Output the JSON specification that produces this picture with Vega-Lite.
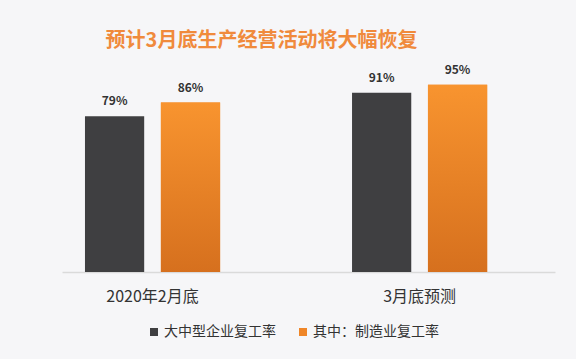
{
  "$schema": "https://vega.github.io/schema/vega-lite/v6.json",
  "width": 493,
  "height": 197,
  "autosize": {"type": "none"},
  "padding": {"left": 62, "top": 75, "right": 21, "bottom": 87},
  "background": "#f6f6f8",
  "config": {
    "view": {"stroke": null},
    "font": "Noto Sans CJK SC"
  },
  "title": {
    "text": "预计3月底生产经营活动将大幅恢复",
    "color": "#f08a3c",
    "fontSize": 20,
    "fontWeight": "bold",
    "anchor": "middle",
    "dx": -47,
    "offset": 13
  },
  "data": {
    "values": [
      {"period": "2020年2月底", "series": "大中型企业复工率", "value": 0.79},
      {"period": "2020年2月底", "series": "其中：制造业复工率", "value": 0.86},
      {"period": "3月底预测", "series": "大中型企业复工率", "value": 0.91},
      {"period": "3月底预测", "series": "其中：制造业复工率", "value": 0.95}
    ]
  },
  "encoding": {
    "x": {
      "field": "period",
      "type": "nominal",
      "sort": null,
      "scale": {"paddingInner": 0.494, "paddingOuter": 0.17, "align": 0.253},
      "axis": {
        "title": null,
        "labelAngle": 0,
        "labelFontSize": 16,
        "labelFontWeight": "normal",
        "labelColor": "#333333",
        "labelPadding": 16,
        "ticks": false,
        "domainColor": "#dadada",
        "domainWidth": 1.5
      }
    },
    "xOffset": {
      "field": "series",
      "type": "nominal",
      "sort": ["大中型企业复工率", "其中：制造业复工率"],
      "scale": {"paddingInner": 0.22, "paddingOuter": 0}
    },
    "y": {
      "field": "value",
      "type": "quantitative",
      "scale": {"domain": [0, 1]},
      "axis": null
    }
  },
  "layer": [
    {
      "mark": {"type": "bar"},
      "encoding": {
        "color": {
          "field": "series",
          "type": "nominal",
          "sort": ["大中型企业复工率", "其中：制造业复工率"],
          "scale": {
            "domain": ["大中型企业复工率", "其中：制造业复工率"],
            "range": ["#3f3f41", "#ef8628"]
          },
          "legend": {
            "title": null,
            "orient": "none",
            "direction": "horizontal",
            "legendX": 85,
            "legendY": 250,
            "symbolType": "square",
            "symbolSize": 64,
            "symbolStrokeWidth": 0,
            "labelFontSize": 14,
            "labelColor": "#333333",
            "labelOffset": 3,
            "columnPadding": 20
          }
        }
      }
    },
    {
      "transform": [{"filter": "datum.series === '其中：制造业复工率'"}],
      "mark": {
        "type": "bar",
        "color": {"gradient": "linear", "x1": 0, "y1": 0, "x2": 0, "y2": 1, "stops": [{"offset": 0, "color": "#f8942f"}, {"offset": 1, "color": "#d6701e"}]}
      }
    },
    {
      "mark": {"type": "text", "baseline": "bottom", "dy": -8, "fontSize": 12, "fontWeight": "bold", "color": "#333333"},
      "encoding": {
        "text": {"field": "value", "type": "quantitative", "format": ".0%"}
      }
    }
  ]
}
